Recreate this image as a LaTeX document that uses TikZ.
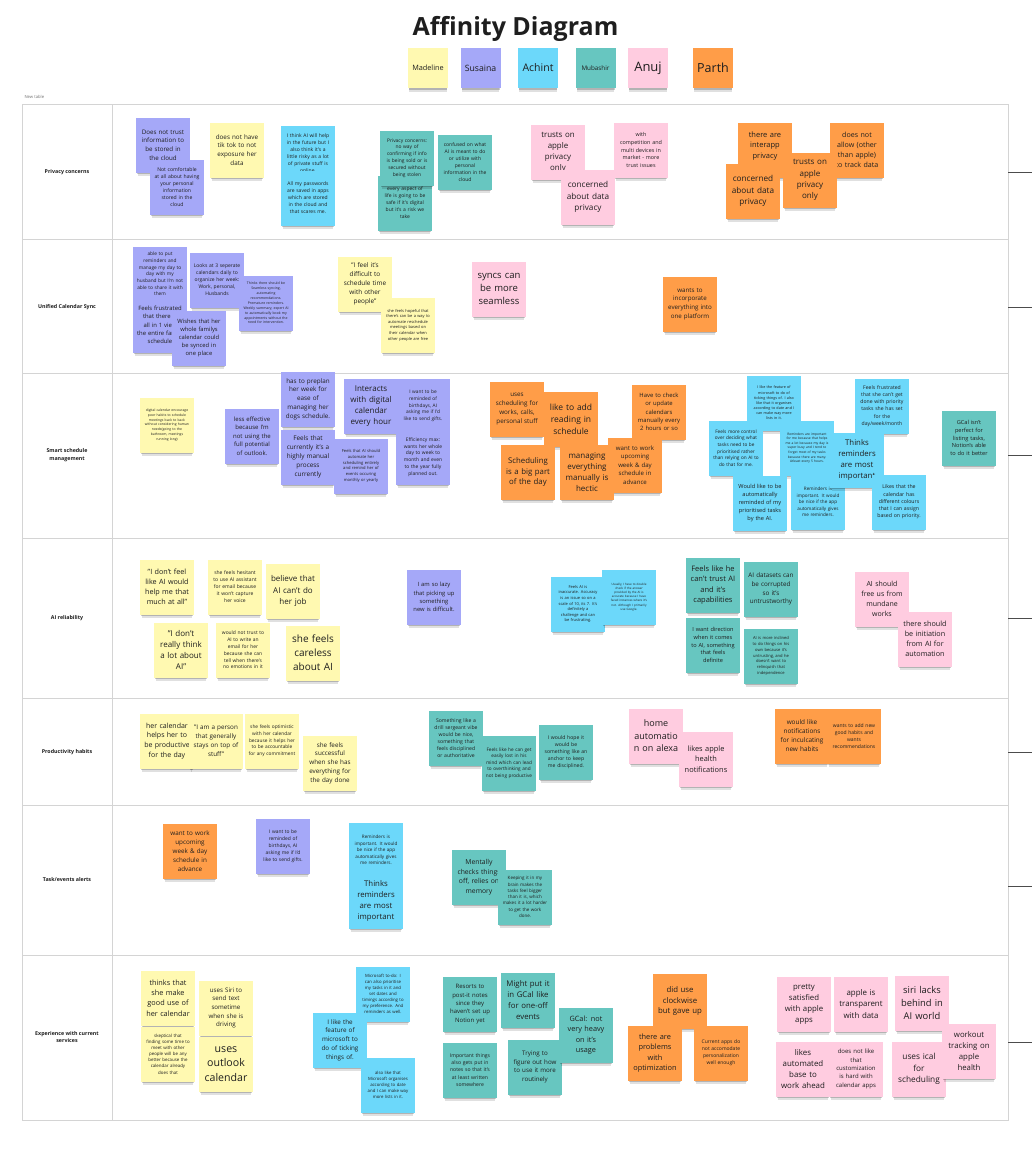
\documentclass[tikz,border=0pt]{standalone}
\usepackage{fontspec}
\setmainfont{Open Sans}
\usetikzlibrary{shadows}

\definecolor{ink}{HTML}{1E1E1E}
\definecolor{gridline}{HTML}{D4D4D4}
\definecolor{stkyel}{HTML}{FFF9B1}
\definecolor{stkpur}{HTML}{A5A8F8}
\definecolor{stkcya}{HTML}{6CD8FA}
\definecolor{stktea}{HTML}{67C6C0}
\definecolor{stkpnk}{HTML}{FFCCE0}
\definecolor{stkorg}{HTML}{FF9D48}

\tikzset{
  note/.style={fill=#1, minimum width=54pt, minimum height=55pt, text width=50pt,
    inner sep=1pt, align=center, text=ink,
    drop shadow={shadow xshift=0pt, shadow yshift=-5pt, shadow scale=.94, fill=black, opacity=.12},
    drop shadow={shadow xshift=0pt, shadow yshift=-3.5pt, shadow scale=.95, fill=black, opacity=.2}},
  tag/.style={note=#1, minimum width=40pt, minimum height=40pt, text width=38pt},
  fs/.style={font=\fontsize{#1}{\fpeval{#1*1.4}}\selectfont},
  rowlabel/.style={font=\fontsize{5.3}{7.4}\selectfont\bfseries, align=center, text=ink},
  gridrule/.style={draw=gridline, line width=.8pt},
  stub/.style={draw=black!70, line width=.9pt},
}

\begin{document}
\begin{tikzpicture}[x=1pt, y=-1pt]
    \fill[white] (0,0) rectangle (1032,1172);
    \useasboundingbox (0,0) rectangle (1032,1172);

    % Title and legend
    \node[anchor=base, font=\fontsize{25}{30}\selectfont\bfseries, text=ink] (title) at (515.5,36) {Affinity Diagram};
    \node[tag=stkyel, fs=7.3] (kMad) at (428,68) {Madeline};
    \node[tag=stkpur, fs=8.7] (kSus) at (480.5,68) {Susaina};
    \node[tag=stkcya, fs=10.5] (kAch) at (538,68) {Achint};
    \node[tag=stktea, fs=6.3] (kMub) at (595.5,68) {Mubashir};
    \node[tag=stkpnk, fs=13] (kAnu) at (648,68) {Anuj};
    \node[tag=stkorg, fs=12.5] (kPar) at (713,68) {Parth};
    \node[anchor=base west, font=\fontsize{4.2}{5}\selectfont, text=black!55] (newtab) at (21,98) {New table};

    % Table
    \draw[gridrule] (22,104) rectangle (1008,1120);
    \draw[gridrule] (112,104) -- (112,1120);
    \foreach \y in {239,373.5,538,698,805.5,955}
        \draw[gridrule] (22,\y) -- (1008,\y);
    \foreach \y in {172,307,455,618,752,886,1042}
        \draw[stub] (1008,\y) -- (1032,\y);

    % Row labels
    \node[rowlabel] (lPriv) at (67,172) {Privacy concerns};
    \node[rowlabel] (lSync) at (67,307) {Unified Calendar Sync};
    \node[rowlabel] (lSmart) at (67,455) {Smart schedule\\management};
    \node[rowlabel] (lAi) at (67,618) {AI reliability};
    \node[rowlabel] (lProd) at (67,752) {Productivity habits};
    \node[rowlabel] (lTask) at (67,880) {Task/events alerts};
    \node[rowlabel] (lExp) at (67,1037) {Experience with current\\services};

    % Privacy concerns
    \node[note=stkpur, fs=6.2] (p1) at (163,145) {Does not trust\\information to\\be stored in\\the cloud};
    \node[note=stkpur, fs=5.1] (p2) at (177,187) {Not comfortable\\at all about having\\your personal\\information\\stored in the\\cloud};
    \node[note=stkyel, fs=6.3] (p3) at (237,150) {does not have\\tik tok to not\\exposure her\\data};
    \node[note=stkcya, fs=5] (p4) at (308,153) {I think AI will help\\in the future but I\\also think it's a\\little risky as a lot\\of private stuff is\\online.};
    \node[note=stkcya, fs=5] (p5) at (308,198) {All my passwords\\are saved in apps\\which are stored\\in the cloud and\\that scares me.};
    \node[note=stktea, fs=5] (p6) at (405,203) {every aspect of\\life is going to be\\safe if it's digital\\but it's a risk we\\take};
    \node[note=stktea, fs=4.9] (p7) at (407,158) {Privacy concerns:\\no way of\\confirming if info\\is being sold or is\\secured without\\being stolen};
    \node[note=stktea, fs=5] (p8) at (465,162) {confused on what\\AI is meant to do\\or utilize with\\personal\\information in the\\cloud};
    \node[note=stkpnk, fs=7.9] (p9) at (558,152) {trusts on\\apple\\privacy\\only};
    \node[note=stkpnk, fs=8.2] (p10) at (588,197) {concerned\\about data\\privacy};
    \node[note=stkpnk, fs=5.4] (p11) at (641,150) {with\\competition and\\multi devices in\\market - more\\trust issues};
    \node[note=stkorg, fs=7.5] (p12) at (765,150) {there are\\interapp\\privacy\\\mbox{}};
    \node[note=stkorg, fs=8.2] (p13) at (753,191) {concerned\\about data\\privacy};
    \node[note=stkorg, fs=7.1] (p15) at (857,150) {does not\\allow (other\\than apple)\\to track data};
    \node[note=stkorg, fs=8] (p14) at (810,180) {trusts on\\apple\\privacy\\only};

    % Unified Calendar Sync
    \node[note=stkpur, fs=4.8] (u1) at (160,274) {able to put\\reminders and\\manage my day to\\day with my\\husband but I'm not\\able to share it with\\them};
    \node[note=stkpur, fs=5.9] (u2) at (160,325) {Feels frustrated\\that there is\\all in 1 view\\the entire family\\schedule};
    \node[note=stkpur, fs=5] (u3) at (217,280) {Looks at 3 seperate\\calendars daily to\\organize her week:\\Work, personal,\\Husbands};
    \node[note=stkpur, fs=3.5] (u5) at (266,303) {Thinks there should be\\Seamless syncing,\\automating\\recommendations.\\Premature reminders.\\Weekly summary, expert AI\\to automatically book my\\appointments without the\\need for intervention.};
    \node[note=stkpur, fs=5.8] (u4) at (199,338) {Wishes that her\\whole familys\\calendar could\\be synced in\\one place};
    \node[note=stkyel, fs=6.4] (u6) at (365,284) {"I feel it's\\difficult to\\schedule time\\with other\\people"};
    \node[note=stkyel, fs=4] (u7) at (408,325) {she feels hopeful that\\there's can be a way to\\automate reschedule\\meetings based on\\their calendar when\\other people are free};
    \node[note=stkpnk, fs=9.5] (u8) at (499,289) {syncs can\\be more\\seamless};
    \node[note=stkorg, fs=6.2] (u9) at (690,304) {wants to\\incorporate\\everything into\\one platform};

    % Smart schedule management
    \node[note=stkyel, fs=3.4] (m1) at (167,425) {digital calendar encourage\\poor habits to schedule\\meetings back to back\\without considering human\\needs(going to the\\bathroom, meetings\\running long)};
    \node[note=stkpur, fs=6] (m2) at (252,436) {less effective\\because I'm\\not using the\\full potential\\of outlook.};
    \node[note=stkpur, fs=6.3] (m3) at (308,399) {has to preplan\\her week for\\ease of\\managing her\\dogs schedule.};
    \node[note=stkpur, fs=6.4] (m4) at (308,457) {Feels that\\currently it's a\\highly manual\\process\\currently};
    \node[note=stkpur, fs=4.1] (m5) at (361,466) {Feels that AI should\\automate her\\scheduling entirely\\and remind her of\\events occuring\\monthly or yearly};
    \node[note=stkpur, fs=8] (m6) at (371,406) {Interacts\\with digital\\calendar\\every hour};
    \node[note=stkpur, fs=4.8] (m7) at (423,406) {I want to be\\reminded of\\birthdays, AI\\asking me if I'd\\like to send gifts.};
    \node[note=stkpur, fs=4.9] (m8) at (423,457) {Efficiency max:\\wants her whole\\day to week to\\month and even\\to the year fully\\planned out.};
    \node[note=stkorg, fs=6.3] (m9) at (517,409) {uses\\scheduling for\\works, calls,\\personal stuff};
    \node[note=stkorg, fs=8.5] (m10) at (571,419) {like to add\\reading in\\schedule};
    \node[note=stkorg, fs=5.9] (m11) at (659,412) {Have to check\\or update\\calendars\\manually every\\2 hours or so};
    \node[note=stkorg, fs=7.8] (m12) at (528,472) {Scheduling\\is a big part\\of the day};
    \node[note=stkorg, fs=6.1] (m13) at (635,465) {want to work\\upcoming\\week \& day\\schedule in\\advance};
    \node[note=stkorg, fs=8] (m14) at (587,472) {managing\\everything\\manually is\\hectic};
    \node[note=stkcya, fs=3.7] (m15) at (774,403) {I like the feature of\\microsoft to do of\\ticking things of. I also\\like that it organises\\according to date and I\\can make way more\\lists in it.};
    \node[note=stkcya, fs=4.7] (m16) at (736,448) {Feels more control\\over deciding what\\tasks need to be\\prioritised rather\\than relying on AI to\\do that for me.};
    \node[note=stkcya, fs=3.3] (m17) at (807,448) {Reminders are important\\for me because that helps\\me a lot because my day is\\super busy and I tend to\\forget most of my tasks\\because there are many.\\Atleast every 5 hours.};
    \node[note=stkcya, fs=5.1] (m18) at (882,406) {Feels frustrated\\that she can't get\\done with priority\\tasks she has set\\for the\\day/week/month};
    \node[note=stkcya, fs=5.6] (m20) at (760,503) {Would like to be\\automatically\\reminded of my\\prioritised tasks\\by the AI.};
    \node[note=stkcya, fs=4.6] (m21) at (818,502) {Reminders is\\important. It would\\be nice if the app\\automatically gives\\me reminders.};
    \node[note=stkcya, fs=7.8] (m19) at (857,460) {Thinks\\reminders\\are most\\important};
    \node[note=stkcya, fs=5.2] (m22) at (899,502) {Likes that the\\calendar has\\different colours\\that I can assign\\based on priority.};
    \node[note=stktea, fs=5.6] (m23) at (969,438) {GCal isn't\\perfect for\\listing tasks,\\Notion's able\\to do it better};

    % AI reliability
    \node[note=stkyel, fs=7.2] (a1) at (167,587) {"I don't feel\\like AI would\\help me that\\much at all"};
    \node[note=stkyel, fs=5] (a2) at (235,587) {she feels hesitant\\to use AI assistant\\for email because\\it won't capture\\her voice};
    \node[note=stkyel, fs=8] (a3) at (293,591) {believe that\\AI can't do\\her job};
    \node[note=stkyel, fs=8] (a4) at (181,650) {"I don't\\really think\\a lot about\\AI"};
    \node[note=stkyel, fs=4.9] (a5) at (243,650) {would not trust to\\AI to write an\\email for her\\because she can\\tell when there's\\no emotions in it};
    \node[note=stkyel, fs=10] (a6) at (313,653) {she feels\\careless\\about AI};
    \node[note=stkpur, fs=5.8] (a7) at (434,597) {I am so lazy\\that picking up\\something\\new is difficult.};
    \node[note=stkcya, fs=4] (a8) at (578,604) {Feels AI is\\inaccurate. Accuracy\\is an issue so on a\\scale of 10, its 7. It's\\definitely a\\challenge and can\\be frustrating.};
    \node[note=stkcya, fs=3] (a9) at (629,597) {Usually, I have to double\\check if the answer\\provided by the AI is\\accurate because I have\\faced instances where it's\\not. Although I primarily\\use Google.};
    \node[note=stktea, fs=7.5] (a10) at (713,585) {Feels like he\\can't trust AI\\and it's\\capabilities};
    \node[note=stktea, fs=6.3] (a11) at (771,589) {AI datasets can\\be corrupted\\so it's\\untrustworthy};
    \node[note=stktea, fs=5.6] (a12) at (713,645) {I want direction\\when it comes\\to AI, something\\that feels\\definite};
    \node[note=stktea, fs=4.1] (a13) at (771,656) {AI is more inclined\\to do things on his\\own because it's\\untrusting, and he\\doesn't want to\\relinquish that\\independence};
    \node[note=stkpnk, fs=7] (a14) at (882,599) {AI should\\free us from\\mundane\\works};
    \node[note=stkpnk, fs=7.2] (a15) at (925,639) {there should\\be initiation\\from AI for\\automation};

    % Productivity habits
    \node[note=stkyel, fs=7] (r1) at (167,741) {her calendar\\helps her to\\be productive\\for the day};
    \node[note=stkyel, fs=6.3] (r2) at (216,741) {"I am a person\\that generally\\stays on top of\\stuff"};
    \node[note=stkyel, fs=4.8] (r3) at (272,741) {she feels optimistic\\with her calendar\\because it helps her\\to be accountable\\for any commitment};
    \node[note=stkyel, fs=6.3] (r4) at (330,763) {she feels\\successful\\when she has\\everything for\\the day done};
    \node[note=stktea, fs=5.1] (r5) at (456,738) {Something like a\\drill sergeant vibe\\would be nice,\\something that\\feels disciplined\\or authoritative};
    \node[note=stktea, fs=4.7] (r6) at (509,763) {Feels like he can get\\easily lost in his\\mind which can lead\\to overthinking and\\not being productive};
    \node[note=stktea, fs=5.1] (r7) at (566,752) {I would hope it\\would be\\something like an\\anchor to keep\\me disciplined.};
    \node[note=stkpnk, fs=9] (r8) at (656,736) {home\\automatio\\n on alexa};
    \node[note=stkpnk, fs=7.4] (r9) at (706,759) {likes apple\\health\\notifications};
    \node[note=stkorg, fs=6.4] (r10) at (802,736) {would like\\notifications\\for inculcating\\new habits};
    \node[note=stkorg, fs=5] (r11) at (854,736) {wants to add new\\good habits and\\wants\\recommendations};

    % Task/events alerts
    \node[note=stkorg, fs=6.3] (t1) at (190,851) {want to work\\upcoming\\week \& day\\schedule in\\advance};
    \node[note=stkpur, fs=4.9] (t2) at (283,846) {I want to be\\reminded of\\birthdays, AI\\asking me if I'd\\like to send gifts.};
    \node[note=stkcya, fs=4.6] (t3) at (376,850) {Reminders is\\important. It would\\be nice if the app\\automatically gives\\me reminders.};
    \node[note=stkcya, fs=7.8] (t4) at (376,901) {Thinks\\reminders\\are most\\important};
    \node[note=stktea, fs=6.8] (t5) at (479,877) {Mentally\\checks things\\off, relies on\\memory};
    \node[note=stktea, fs=4.5] (t6) at (525,897) {Keeping it in my\\brain makes the\\tasks feel bigger\\than it is, which\\makes it a lot harder\\to get the work\\done.};

    % Experience with current services
    \node[note=stkyel, fs=7.3] (e1) at (168,998) {thinks that\\she make\\good use of\\her calendar};
    \node[note=stkyel, fs=4.4] (e2) at (168,1054) {skeptical that\\finding some time to\\meet with other\\people will be any\\better because the\\calendar already\\does that};
    \node[note=stkyel, fs=6.2] (e3) at (226,1008) {uses Siri to\\send text\\sometime\\when she is\\driving};
    \node[note=stkyel, fs=10.6] (e4) at (226,1064) {uses\\outlook\\calendar};
    \node[note=stkcya, fs=4.3] (e5) at (383,994) {Microsoft to-do: I\\can also prioritise\\my tasks in it and\\set dates and\\timings according to\\my preference. And\\reminders as well.};
    \node[note=stkcya, fs=6.3] (e6) at (340,1040) {I like the\\feature of\\microsoft to\\do of ticking\\things of.};
    \node[note=stkcya, fs=4.3] (e7) at (388,1085) {also like that\\Microsoft organises\\according to date\\and I can make way\\more lists in it.};
    \node[note=stktea, fs=6] (e8) at (470,1004) {Resorts to\\post-it notes\\since they\\haven't set up\\Notion yet};
    \node[note=stktea, fs=7.8] (e9) at (528,1000) {Might put it\\in GCal like\\for one-off\\events};
    \node[note=stktea, fs=5.1] (e10) at (470,1070) {Important things\\also gets put in\\notes so that it's\\at least written\\somewhere};
    \node[note=stktea, fs=6.2] (e11) at (535,1067) {Trying to\\figure out how\\to use it more\\routinely};
    \node[note=stktea, fs=7.3] (e12) at (586,1035) {GCal: not\\very heavy\\on it's\\usage};
    \node[note=stkorg, fs=7.8] (e13) at (680,1001) {did use\\clockwise\\but gave up};
    \node[note=stkorg, fs=7.4] (e14) at (655,1053) {there are\\problems\\with\\optimization};
    \node[note=stkorg, fs=5] (e15) at (721,1053) {Current apps do\\not accomodate\\personalization\\well enough};
    \node[note=stkpnk, fs=7.8] (e16) at (804,1004) {pretty\\satisfied\\with apple\\apps};
    \node[note=stkpnk, fs=7.9] (e17) at (861,1004) {apple is\\transparent\\with data};
    \node[note=stkpnk, fs=9.4] (e18) at (922,1003) {siri lacks\\behind in\\AI world};
    \node[note=stkpnk, fs=7.9] (e19) at (803,1069) {likes\\automated\\base to\\work ahead};
    \node[note=stkpnk, fs=6] (e20) at (856,1069) {does not like\\that\\customization\\is hard with\\calendar apps};
    \node[note=stkpnk, fs=8.3] (e21) at (919,1069) {uses ical\\for\\scheduling};
    \node[note=stkpnk, fs=7.8] (e22) at (969,1051) {workout\\tracking on\\apple\\health};
\end{tikzpicture}
\end{document}
